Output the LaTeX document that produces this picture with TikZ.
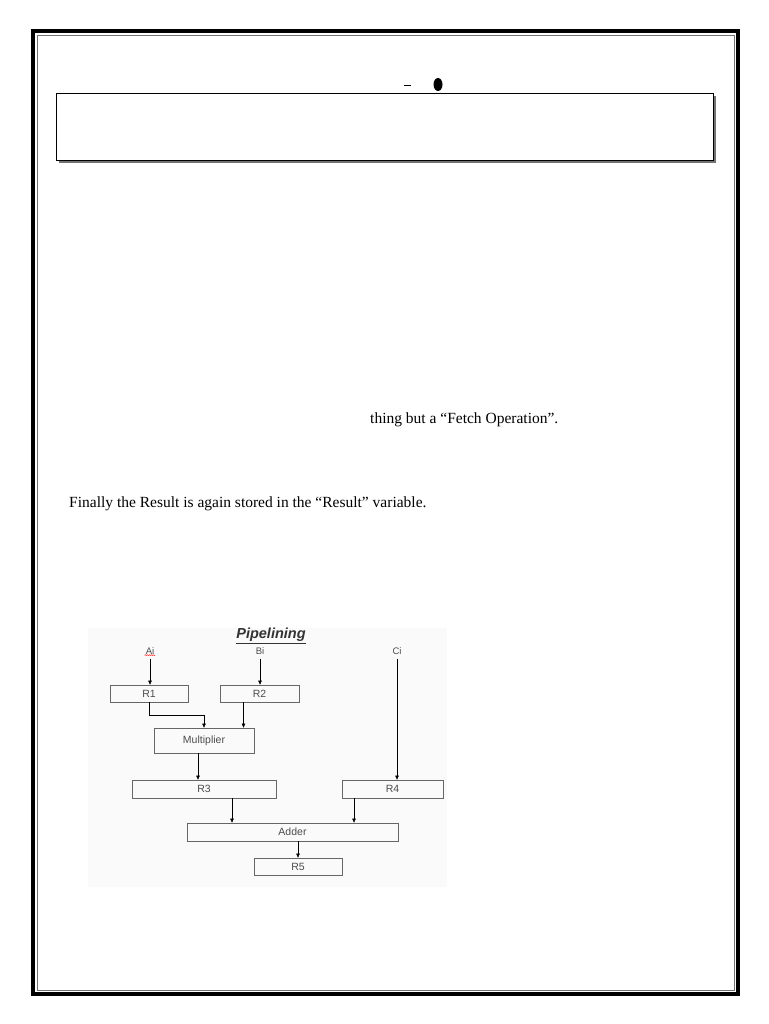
\documentclass[tikz,border=0pt]{standalone}
\usepackage{fontspec}
\setmainfont{Liberation Serif}
\newfontfamily\diagfont{Liberation Sans}
\usetikzlibrary{positioning,arrows.meta,calc,decorations.pathmorphing}

\begin{document}
\begin{tikzpicture}[x=1pt,y=-1pt,
  reg/.style={draw=black!60,line width=0.6pt,inner sep=0pt,
    font=\diagfont\fontsize{10.5}{11}\selectfont,text=black!70},
  inp/.style={inner sep=1pt,font=\diagfont\fontsize{9.5}{10}\selectfont,text=black!70},
  ar/.style={-{Triangle[length=4pt,width=3.4pt]},line width=0.5pt},
  body/.style={anchor=base west,inner sep=0pt,font=\fontsize{15.5}{18}\selectfont}]
\useasboundingbox (0,0) rectangle (768,1024);
\fill[white] (0,0) rectangle (768,1024);
\draw[line width=3.5pt] (33,31) rectangle (738,994);
\draw[black!55,line width=0.8pt] (37,35) rectangle (734,990);
\draw[line width=0.9pt] (403.5,85) -- (410.5,85);
\fill (438,84.5) ellipse [x radius=4.5pt,y radius=6.5pt];
\fill[black!55] (59,96) rectangle (716,163);
\draw[fill=white,line width=0.9pt] (56,93) rectangle (713,160);
\node[body] (fetch) at (370,423.5) {thing but a “Fetch Operation”.};
\node[body] (final) at (69,507) {Finally the Result is again stored in the “Result” variable.};
\fill[black!2] (88,628) rectangle (447,887);
\node[font=\diagfont\fontsize{14.5}{15}\selectfont\bfseries\itshape,inner sep=0pt,text=black!80] (title) at (271,636) {\underline{Pipelining}};
\node[inp] (ai) at (150,651) {Ai};
\node[inp] (bi) at (260,651) {Bi};
\node[inp] (ci) at (397,651) {Ci};
\draw[red,line width=0.4pt,decorate,decoration={snake,amplitude=0.5pt,segment length=2pt}] ([yshift=0.5pt]ai.south west) -- ([yshift=0.5pt]ai.south east);
\node[reg,minimum width=78pt,minimum height=17pt] (r1) at (149,693.5) {R1};
\node[reg,minimum width=79pt,minimum height=17pt] (r2) at (259.5,693.5) {R2};
\node[reg,minimum width=100pt,minimum height=25pt] (mult) at (204,740.5) {Multiplier};
\node[reg,minimum width=144pt,minimum height=18pt] (r3) at (204,789) {R3};
\node[reg,minimum width=101pt,minimum height=18pt] (r4) at (392.5,789) {R4};
\node[reg,minimum width=211pt,minimum height=18pt] (adder) at (292.5,832) {Adder};
\node[reg,minimum width=88pt,minimum height=17pt] (r5) at (298,866.5) {R5};
\foreach \a/\b in {ai/r1,bi/r2,ci/r4} \draw[ar] ([yshift=-3pt]\a.south) -- (\a.south |- \b.north);
\draw[ar] (r1.south) -- ++(0,13) -| (mult.north);
\draw[ar] ([xshift=-16pt]r2.south) -- ([xshift=-16pt]r2.south |- mult.north);
\draw[ar] ([xshift=-6pt]mult.south) -- ([xshift=-6pt]mult.south |- r3.north);
\draw[ar] ([xshift=28pt]r3.south) -- ([xshift=28pt]r3.south |- adder.north);
\draw[ar] ([xshift=-38.5pt]r4.south) -- ([xshift=-38.5pt]r4.south |- adder.north);
\draw[ar] ([xshift=5.5pt]adder.south) -- ([xshift=5.5pt]adder.south |- r5.north);
\end{tikzpicture}
\end{document}
